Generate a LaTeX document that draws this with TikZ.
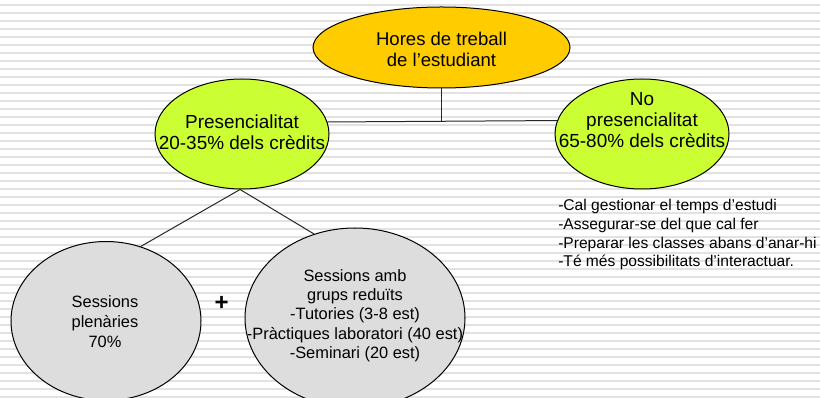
\documentclass[tikz,border=0pt]{standalone}
\usepackage{fontspec}
\setmainfont{Liberation Sans}
\usetikzlibrary{shapes.geometric}
\definecolor{stripe}{RGB}{226,226,226}
\definecolor{topfill}{RGB}{255,204,0}
\definecolor{greenfill}{RGB}{204,255,51}
\definecolor{greyfill}{RGB}{221,221,221}
\begin{document}
\begin{tikzpicture}[x=0.75pt,y=-0.75pt,
  oval/.style={ellipse,draw=black,line width=0.75pt,inner sep=0pt},
  conn/.style={draw=black!85,line width=0.75pt},
  lbl/.style={align=center,inner sep=0pt,text=black},
]
\clip (0,0) rectangle (820,398);
\fill[white] (0,0) rectangle (820,398);
\foreach \k in {0,...,49} \draw[stripe,line width=1.5pt] (0,5+8*\k) -- (820,5+8*\k);

% ellipses
\node[oval,fill=topfill,minimum width=192.75pt,minimum height=60.75pt] (top) at (441.5,47.5) {};
\node[oval,fill=greenfill,minimum width=130.5pt,minimum height=82.5pt] (pres) at (242,134) {};
\node[oval,fill=greenfill,minimum width=130.5pt,minimum height=82.5pt] (nopres) at (642,134) {};
\node[oval,fill=greyfill,minimum width=142.5pt,minimum height=119.25pt] (ple) at (106,321) {};
\node[oval,fill=greyfill,minimum width=165pt,minimum height=135pt] (grp) at (355,318) {};

% texts
\node[lbl,font=\fontsize{13.9pt}{15.75pt}\selectfont] (toptxt) at (441.5,48.9) {Hores de treball\\de l’estudiant};
\node[lbl,font=\fontsize{14.2pt}{15.4pt}\selectfont] (prestxt) at (242,132.5) {Presencialitat\\20-35\% dels crèdits};
\node[lbl,font=\fontsize{14.2pt}{15.75pt}\selectfont] (noprestxt) at (642,120.3) {No\\presencialitat\\65-80\% dels crèdits};
\node[lbl,font=\fontsize{12.3pt}{15pt}\selectfont] (pletxt) at (105,322) {Sessions\\plenàries\\70\%};
\node[lbl,font=\fontsize{12.3pt}{14.3pt}\selectfont] (grptxt) at (355,315.7) {Sessions amb\\grups reduïts\\-Tutories (3-8 est)\\-Pràctiques laboratori (40 est)\\-Seminari (20 est)};
\node[lbl,align=left,anchor=west,font=\fontsize{11.7pt}{14pt}\selectfont] (list) at (558,234.7) {-Cal gestionar el temps d’estudi\\-Assegurar-se del que cal fer\\-Preparar les classes abans d’anar-hi\\-Té més possibilitats d’interactuar.};
\node[lbl,font=\fontsize{18pt}{22pt}\selectfont\bfseries] (plus) at (221.7,303.3) {+};

% connectors
\draw[conn] (top.south) -- (top.south |- pres.8.75);
\draw[conn] (pres.8.75) -- (nopres.171.25);
\draw[conn] (pres.268) -- (ple.65.3);
\draw[conn] (pres.268) -- (grp.116.3);
\end{tikzpicture}
\end{document}
